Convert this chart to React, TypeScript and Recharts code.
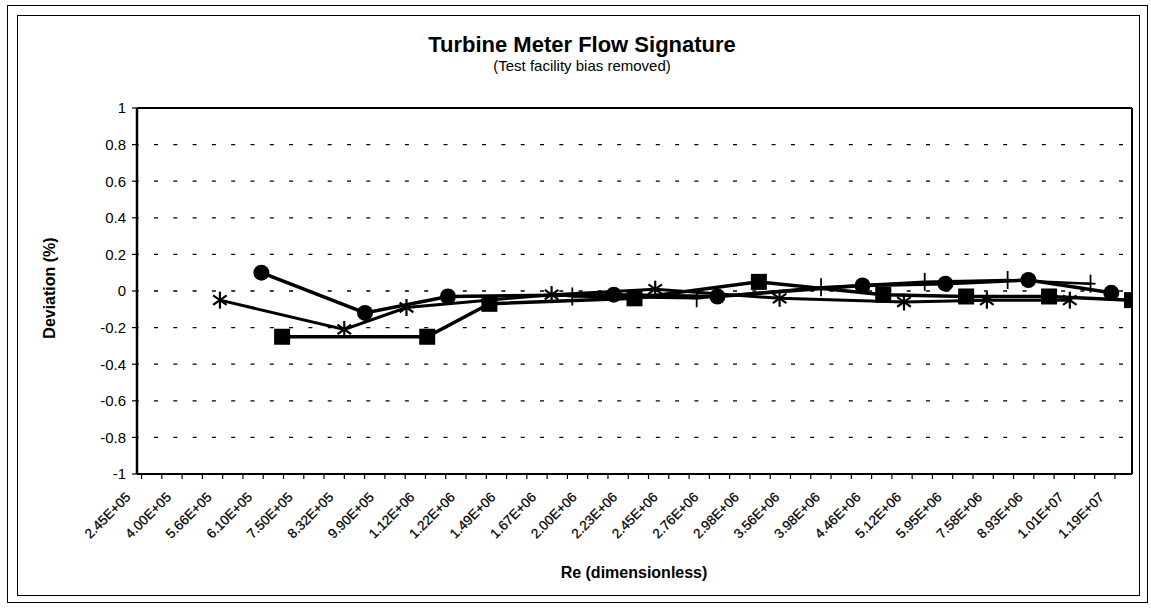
import React from 'react';
import { LineChart, Line, XAxis, YAxis, CartesianGrid, ReferenceLine } from 'recharts';

// Reynolds-number tick labels
const RE_LABELS = [
  '2.45E+05', '4.00E+05', '5.66E+05', '6.10E+05', '7.50E+05', '8.32E+05', '9.90E+05',
  '1.12E+06', '1.22E+06', '1.49E+06', '1.67E+06', '2.00E+06', '2.23E+06', '2.45E+06',
  '2.76E+06', '2.98E+06', '3.56E+06', '3.98E+06', '4.46E+06', '5.12E+06', '5.95E+06',
  '7.58E+06', '8.93E+06', '1.01E+07', '1.19E+07',
];

// data categories along the axis (index 0..48)
const CATEGORY_COUNT = 49;

// label layout in category units: label j sits at LABEL_OFFSET + j * LABEL_STEP
const LABEL_OFFSET = -0.27;
const LABEL_STEP = 1.9566;

const LABEL_TICKS = RE_LABELS.map((_, j) => LABEL_OFFSET + j * LABEL_STEP);
const MARK_TICKS = Array.from({ length: RE_LABELS.length * 2 }, (_, m) => LABEL_OFFSET + (m + 0.5) * (LABEL_STEP / 2))
  .filter((u) => u <= CATEGORY_COUNT - 1);
const LABEL_BY_TICK = new Map(LABEL_TICKS.map((u, j) => [u, RE_LABELS[j]]));
const MARK_SET = new Set(MARK_TICKS);
const X_TICKS = [...LABEL_TICKS, ...MARK_TICKS].sort((a, b) => a - b);

const Y_TICKS = [-1, -0.8, -0.6, -0.4, -0.2, 0, 0.2, 0.4, 0.6, 0.8, 1];

// Series: category index + deviation (%)
const CIRCLE_IDX = [6, 11, 15, 23, 28, 35, 39, 43, 47];
const CIRCLE_DEV = [0.1, -0.12, -0.03, -0.02, -0.03, 0.03, 0.04, 0.06, -0.01];

const SQUARE_IDX = [7, 14, 17, 24, 30, 36, 40, 44, 48];
const SQUARE_DEV = [-0.25, -0.25, -0.07, -0.04, 0.05, -0.02, -0.03, -0.03, -0.05];

const STAR_IDX = [4, 10, 13, 20, 25, 31, 37, 41, 45];
const STAR_DEV = [-0.05, -0.21, -0.09, -0.02, 0.01, -0.04, -0.06, -0.05, -0.05];

const PLUS_IDX = [21, 27, 33, 38, 42, 46];
const PLUS_DEV = [-0.03, -0.04, 0.02, 0.05, 0.06, 0.04];

const toPoints = (idx: number[], dev: number[]) => idx.map((x, i) => ({ x, y: dev[i] }));

const circlePts = toPoints(CIRCLE_IDX, CIRCLE_DEV);
const squarePts = toPoints(SQUARE_IDX, SQUARE_DEV);
const starPts = toPoints(STAR_IDX, STAR_DEV);
const plusPts = toPoints(PLUS_IDX, PLUS_DEV);

const FONT = '"Liberation Sans", Arial, Helvetica, sans-serif';

const CircleDot = (p: any) => {
  if (p.cx == null || p.cy == null) return <g key={`c${p.index}`} />;
  return <circle key={`c${p.index}`} cx={p.cx} cy={p.cy} r={8} fill="#000" stroke="none" />;
};
const SquareDot = (p: any) => {
  if (p.cx == null || p.cy == null) return <g key={`s${p.index}`} />;
  return <rect key={`s${p.index}`} x={p.cx - 8} y={p.cy - 8} width={16} height={16} fill="#000" stroke="none" />;
};
const StarDot = (p: any) => {
  if (p.cx == null || p.cy == null) return <g key={`t${p.index}`} />;
  const r = 8.5;
  const d = r * 0.8;
  return (
    <g key={`t${p.index}`} stroke="#000" strokeWidth={2.2} fill="none">
      <line x1={p.cx} y1={p.cy - r} x2={p.cx} y2={p.cy + r} />
      <line x1={p.cx - d} y1={p.cy - d * 0.7} x2={p.cx + d} y2={p.cy + d * 0.7} />
      <line x1={p.cx - d} y1={p.cy + d * 0.7} x2={p.cx + d} y2={p.cy - d * 0.7} />
    </g>
  );
};
const PlusDot = (p: any) => {
  if (p.cx == null || p.cy == null) return <g key={`p${p.index}`} />;
  return (
    <g key={`p${p.index}`} stroke="#000" strokeWidth={1.8} fill="none">
      <line x1={p.cx} y1={p.cy - 9} x2={p.cx} y2={p.cy + 9} />
      <line x1={p.cx - 5} y1={p.cy} x2={p.cx + 5} y2={p.cy} />
    </g>
  );
};

const XTick = (props: any) => {
  const { x, y, payload } = props;
  const v = payload.value;
  const label = LABEL_BY_TICK.get(v);
  if (label != null) {
    const ty = y + 24;
    return (
      <text
        x={x}
        y={ty}
        transform={`rotate(-45 ${x} ${ty})`}
        textAnchor="end"
        fontSize={13.5}
        fontFamily={FONT}
        fill="#000"
        stroke="#000"
        strokeWidth={0.25}
      >
        {label}
      </text>
    );
  }
  if (MARK_SET.has(v)) {
    return <line x1={x} y1={y - 1} x2={x} y2={y + 5} stroke="#000" strokeWidth={1.2} />;
  }
  return <g />;
};

const W = 1151;
const H = 608;

export default function App() {
  return (
    <div style={{ position: 'absolute', left: 0, top: 0, width: W, height: H, background: '#fff' }}>
      <div style={{ position: 'absolute', left: 0, top: 0 }}>
        <LineChart width={W} height={H} margin={{ top: 108, right: 19, bottom: 74, left: 77 }}>
          <CartesianGrid
            xAxisId="data"
            vertical={false}
            stroke="#000"
            strokeWidth={1.3}
            strokeDasharray="4 15.3"
            strokeDashoffset={-17}
          />
          <XAxis
            xAxisId="data"
            type="number"
            dataKey="x"
            domain={[0, CATEGORY_COUNT - 1]}
            allowDataOverflow
            ticks={X_TICKS}
            interval={0}
            tick={<XTick />}
            tickLine={false}
            tickSize={0}
            tickMargin={0}
            axisLine={{ stroke: '#000', strokeWidth: 2 }}
            height={60}
          />
          <YAxis
            type="number"
            domain={[-1, 1]}
            allowDataOverflow
            ticks={Y_TICKS}
            interval={0}
            width={60}
            tickFormatter={(v: number) => String(v)}
            tick={{ fontSize: 15, fill: '#000', fontFamily: FONT }}
            tickLine={{ stroke: '#000', strokeWidth: 1.2 }}
            tickSize={5}
            tickMargin={6}
            axisLine={{ stroke: '#000', strokeWidth: 2.5 }}
          />
          <ReferenceLine xAxisId="data" y={1} stroke="#000" strokeWidth={2} />
          <ReferenceLine xAxisId="data" x={CATEGORY_COUNT - 1} stroke="#000" strokeWidth={2} />
          <Line
            xAxisId="data"
            data={plusPts}
            dataKey="y"
            type="linear"
            stroke="#000"
            strokeWidth={2.5}
            dot={PlusDot}
            activeDot={false}
            isAnimationActive={false}
          />
          <Line
            xAxisId="data"
            data={starPts}
            dataKey="y"
            type="linear"
            stroke="#000"
            strokeWidth={3}
            dot={StarDot}
            activeDot={false}
            isAnimationActive={false}
          />
          <Line
            xAxisId="data"
            data={circlePts}
            dataKey="y"
            type="linear"
            stroke="#000"
            strokeWidth={3.5}
            dot={CircleDot}
            activeDot={false}
            isAnimationActive={false}
          />
          <Line
            xAxisId="data"
            data={squarePts}
            dataKey="y"
            type="linear"
            stroke="#000"
            strokeWidth={3.5}
            dot={SquareDot}
            activeDot={false}
            isAnimationActive={false}
          />
        </LineChart>
      </div>
      <svg
        width={W}
        height={H}
        style={{ position: 'absolute', left: 0, top: 0, pointerEvents: 'none' }}
      >
        <rect x={7.5} y={5.5} width={1140} height={597} fill="none" stroke="#000" strokeWidth={1} />
        <rect x={17.5} y={15.5} width={1122} height={580} fill="none" stroke="#000" strokeWidth={1} />
        <text x={582} y={52} textAnchor="middle" fontFamily={FONT} fontWeight="bold" fontSize={22} fill="#000">
          Turbine Meter Flow Signature
        </text>
        <text x={582} y={71} textAnchor="middle" fontFamily={FONT} fontSize={15} fill="#000">
          (Test facility bias removed)
        </text>
        <text x={634} y={578} textAnchor="middle" fontFamily={FONT} fontWeight="bold" fontSize={16} fill="#000">
          Re (dimensionless)
        </text>
        <text
          x={55}
          y={288}
          textAnchor="middle"
          transform="rotate(-90 55 288)"
          fontFamily={FONT}
          fontWeight="bold"
          fontSize={16}
          fill="#000"
        >
          Deviation (%)
        </text>
      </svg>
    </div>
  );
}
